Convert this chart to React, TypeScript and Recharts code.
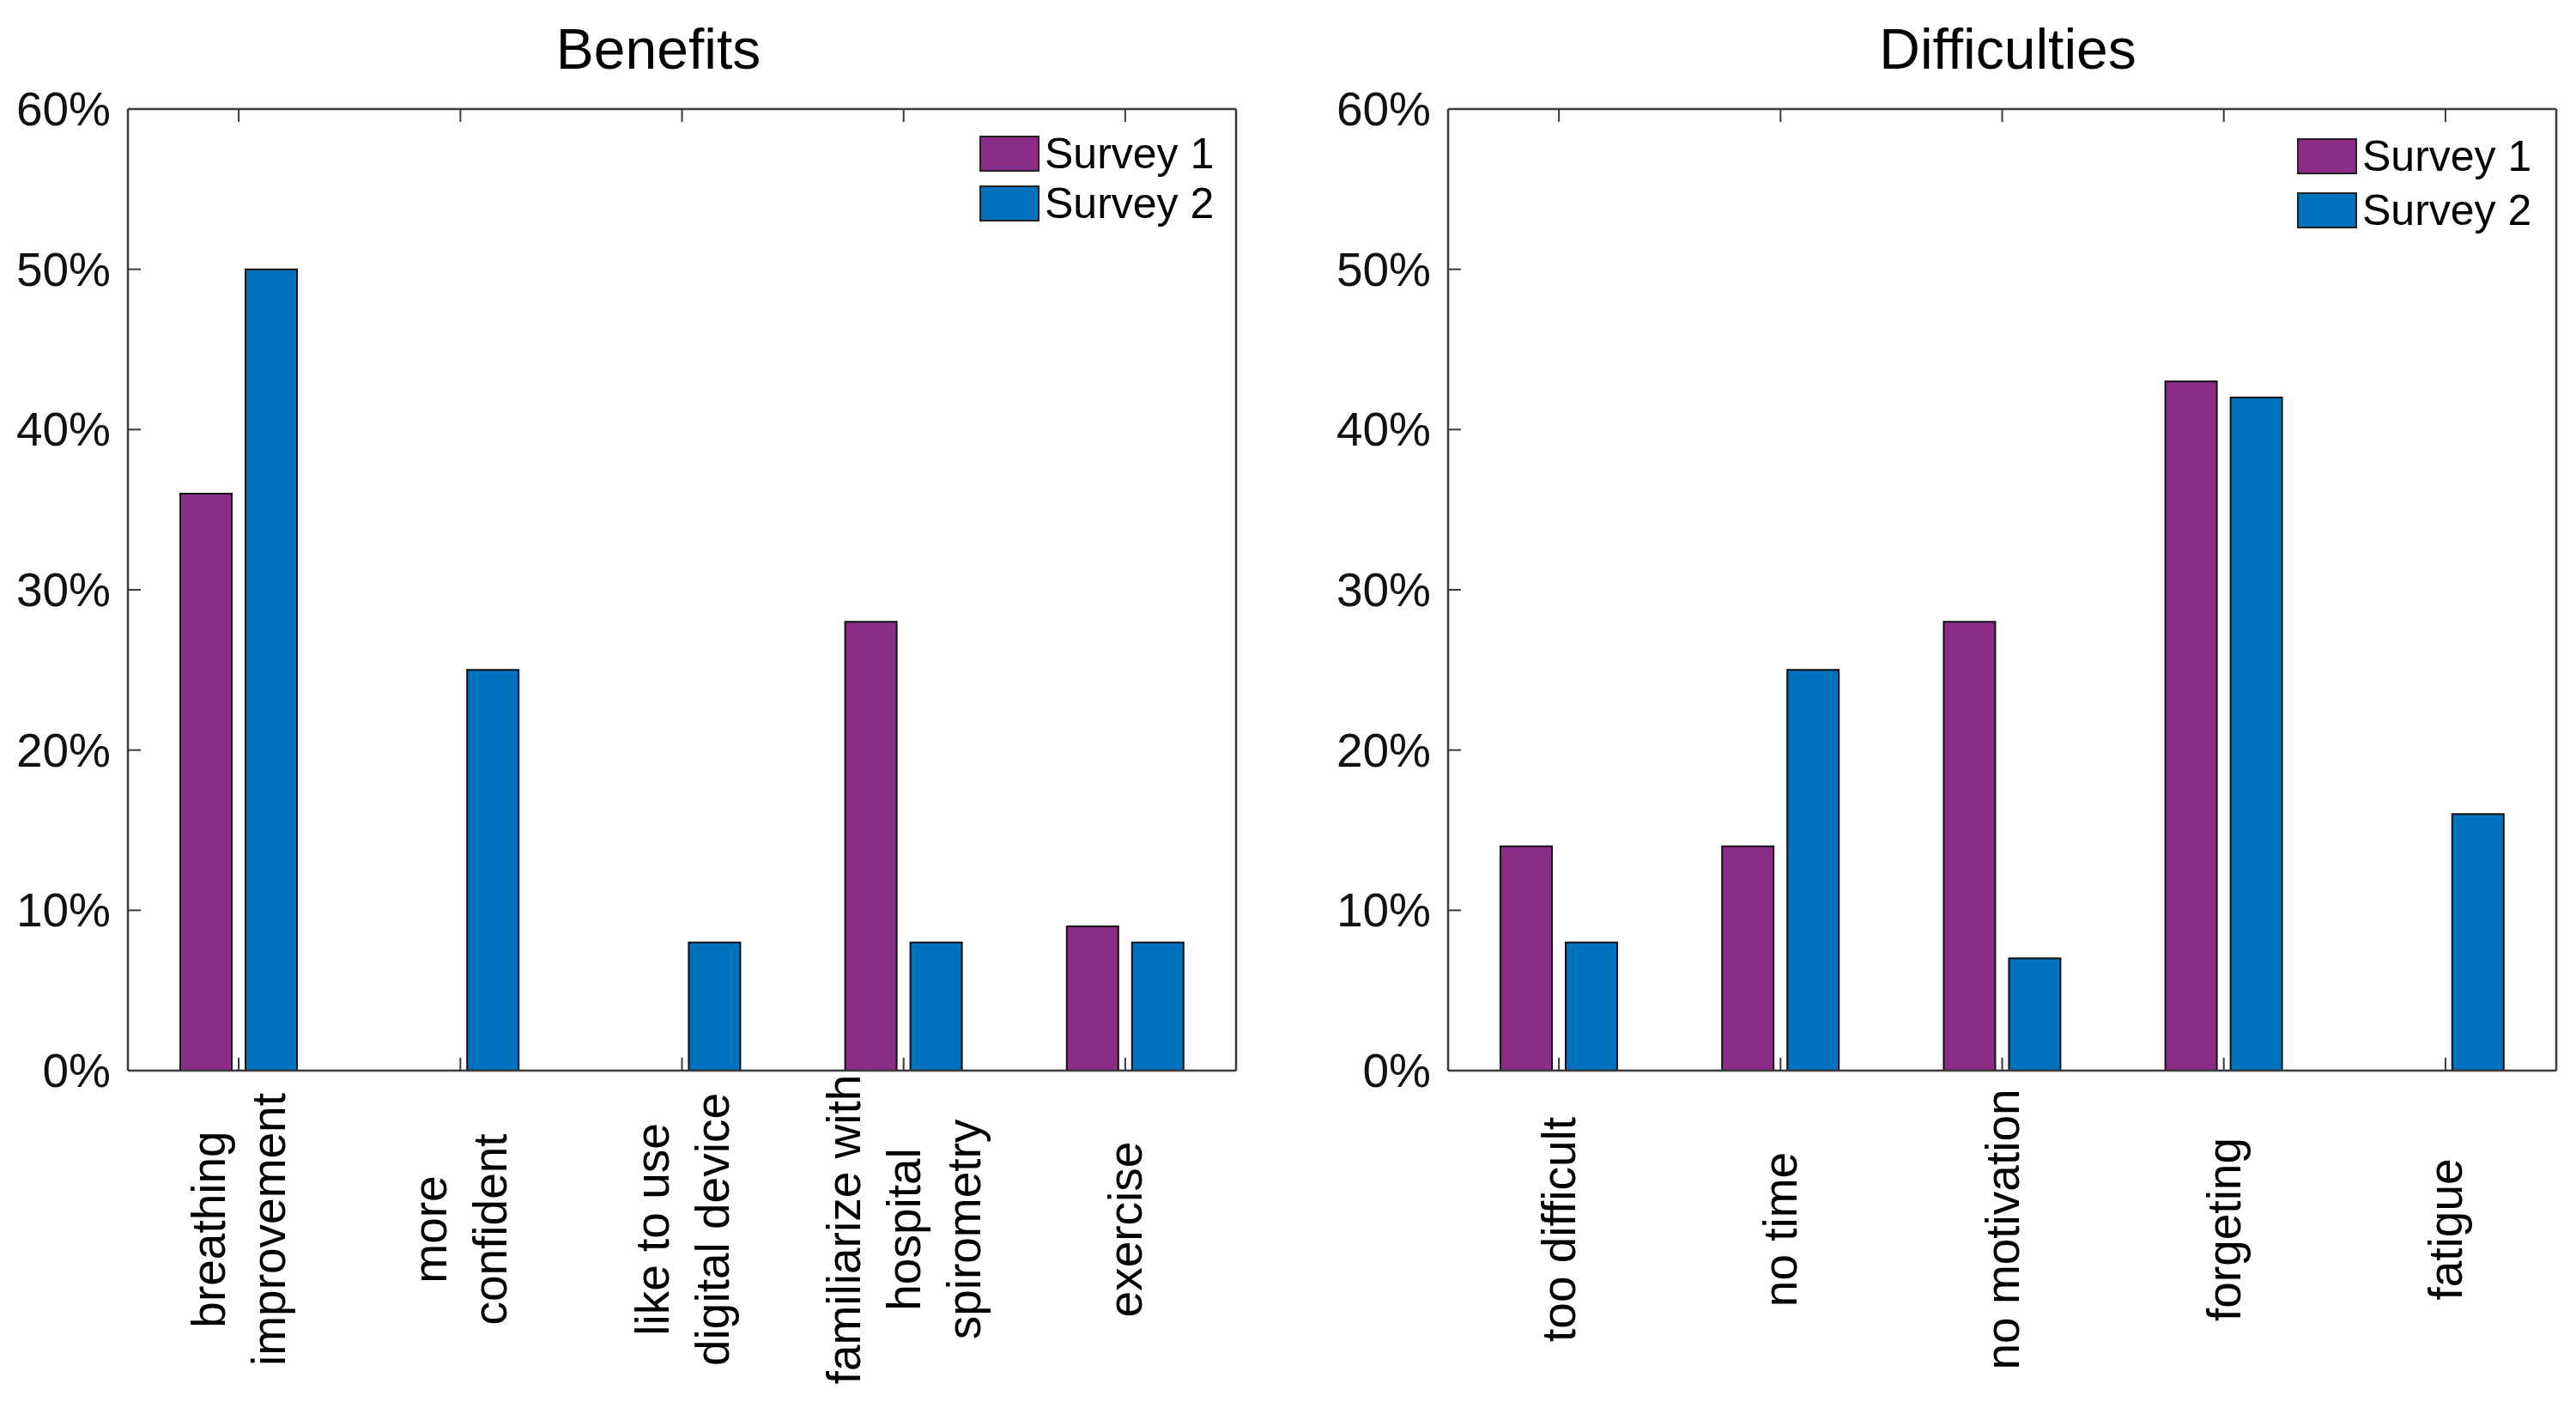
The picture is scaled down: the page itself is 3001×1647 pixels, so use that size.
import { BarChart, Bar, XAxis, YAxis, Legend } from 'recharts';

const FONT = '"Liberation Sans", Arial, Helvetica, sans-serif';
const PURPLE = '#8B2C88';
const BLUE = '#0071BC';
const AXIS = '#3a3a3a';
const TICK_LEN = 15;
const LABEL_GAP = 185;

// Benefits panel
const benefitLabels = [
  'breathing\nimprovement',
  'more\nconfident',
  'like to use\ndigital device',
  'familiarize with\nhospital\nspirometry',
  'exercise',
];
const benefitsSurvey1 = [36, 0, 0, 28, 9];
const benefitsSurvey2 = [50, 25, 8, 8, 8];

// Difficulties panel
const difficultyLabels = ['too difficult', 'no time', 'no motivation', 'forgeting', 'fatigue'];
const difficultiesSurvey1 = [14, 14, 28, 43, 0];
const difficultiesSurvey2 = [8, 25, 7, 42, 16];

const yTicks = [0, 10, 20, 30, 40, 50, 60];
const seriesNames = ['Survey 1', 'Survey 2'];

function buildRows(labels: string[], s1: number[], s2: number[]) {
  return labels.map((name, i) => ({ name, s1: s1[i], s2: s2[i] }));
}

// bottom axis: inward tick + rotated multi-line label
function CategoryTick(props: any) {
  const { x, y, payload } = props;
  const lines = String(payload.value).split('\n');
  const step = 70;
  const axisY = y - LABEL_GAP;
  return (
    <g>
      <line x1={x} x2={x} y1={axisY} y2={axisY - TICK_LEN} stroke={AXIS} strokeWidth={2} />
      <g transform={`translate(${x},${y}) rotate(-90)`}>
        {lines.map((line: string, i: number) => (
          <text
            key={i}
            x={0}
            y={(i - (lines.length - 1) / 2) * step}
            textAnchor="middle"
            dominantBaseline="central"
            fontSize={55}
            fontFamily={FONT}
            fill="#000"
          >
            {line}
          </text>
        ))}
      </g>
    </g>
  );
}

function TopTick(props: any) {
  const { x, y } = props;
  return <line x1={x} x2={x} y1={y} y2={y + TICK_LEN} stroke={AXIS} strokeWidth={2} />;
}

function RightTick(props: any) {
  const { x, y } = props;
  return <line x1={x} x2={x - TICK_LEN} y1={y} y2={y} stroke={AXIS} strokeWidth={2} />;
}

const Y_LABEL_GAP = 20;
function PercentTick(props: any) {
  const { x, y, payload } = props;
  const axisX = x + Y_LABEL_GAP;
  return (
    <g>
      <line x1={axisX} x2={axisX + TICK_LEN} y1={y} y2={y} stroke={AXIS} strokeWidth={2} />
      <text x={x} y={y} textAnchor="end" dominantBaseline="central" fontSize={55} fontFamily={FONT} fill="#111">
        {`${payload.value}%`}
      </text>
    </g>
  );
}

function makeLegend(pitch: number) {
  return (props: any) => {
    const items = props.payload || [];
    return (
      <div style={{ fontFamily: FONT, fontSize: 50, color: '#000' }}>
        {items.map((entry: any, i: number) => (
          <div key={i} style={{ display: 'flex', alignItems: 'center', height: pitch }}>
            <div
              style={{
                width: 66,
                height: 38,
                background: entry.color,
                border: '2px solid #222',
                marginRight: 6,
              }}
            />
            <span style={{ lineHeight: 1 }}>{entry.value}</span>
          </div>
        ))}
      </div>
    );
  };
}

interface PanelProps {
  rows: { name: string; s1: number; s2: number }[];
  left: number;
  marginLeft: number;
  marginRight: number;
  legendLeft: number;
  legendTop: number;
  legendPitch: number;
}

function Panel({ rows, left, marginLeft, marginRight, legendLeft, legendTop, legendPitch }: PanelProps) {
  const axisLine = { stroke: AXIS, strokeWidth: 2.5 };
  return (
    <div style={{ position: 'absolute', left, top: 0 }}>
      <BarChart
        width={1501}
        height={1647}
        data={rows}
        margin={{ top: 126, right: marginRight, bottom: 0, left: marginLeft }}
        barGap={16}
      >
        <XAxis
          dataKey="name"
          height={400}
          interval={0}
          tickSize={0}
          tickMargin={LABEL_GAP}
          tick={<CategoryTick />}
          tickLine={false}
          axisLine={axisLine}
        />
        <XAxis
          xAxisId="top"
          orientation="top"
          dataKey="name"
          height={1}
          interval={0}
          tickSize={0}
          tickMargin={0}
          tick={<TopTick />}
          tickLine={false}
          axisLine={axisLine}
        />
        <YAxis
          domain={[0, 60]}
          ticks={yTicks}
          width={100}
          interval={0}
          tickSize={0}
          tickMargin={Y_LABEL_GAP}
          tick={<PercentTick />}
          tickLine={false}
          axisLine={axisLine}
        />
        <YAxis
          yAxisId="right"
          orientation="right"
          domain={[0, 60]}
          ticks={yTicks}
          width={1}
          interval={0}
          tickSize={0}
          tickMargin={0}
          tick={<RightTick />}
          tickLine={false}
          axisLine={axisLine}
        />
        <Legend
          layout="vertical"
          align="center"
          verticalAlign="middle"
          content={makeLegend(legendPitch)}
          wrapperStyle={{ left: legendLeft, top: legendTop, width: 'auto', right: 'auto', bottom: 'auto' }}
        />
        <Bar dataKey="s1" name={seriesNames[0]} fill={PURPLE} stroke="#111" strokeWidth={2} barSize={60} isAnimationActive={false} />
        <Bar dataKey="s2" name={seriesNames[1]} fill={BLUE} stroke="#111" strokeWidth={2} barSize={60} isAnimationActive={false} />
      </BarChart>
    </div>
  );
}

const titleStyle: React.CSSProperties = {
  position: 'absolute',
  top: 24,
  width: 600,
  textAlign: 'center',
  fontFamily: FONT,
  fontSize: 66,
  lineHeight: 1,
  color: '#000',
};

export default function App() {
  const benefitRows = buildRows(benefitLabels, benefitsSurvey1, benefitsSurvey2);
  const difficultyRows = buildRows(difficultyLabels, difficultiesSurvey1, difficultiesSurvey2);
  return (
    <div style={{ position: 'absolute', left: 0, top: 0, width: 3001, height: 1647, background: '#fff', overflow: 'hidden' }}>
      <div style={{ ...titleStyle, left: 767 - 300 }}>Benefits</div>
      <div style={{ ...titleStyle, left: 2339 - 300 }}>Difficulties</div>
      <Panel rows={benefitRows} left={0} marginLeft={49} marginRight={60} legendLeft={1141} legendTop={150} legendPitch={58} />
      <Panel rows={difficultyRows} left={1500} marginLeft={87} marginRight={22} legendLeft={1176} legendTop={150} legendPitch={63} />
    </div>
  );
}
